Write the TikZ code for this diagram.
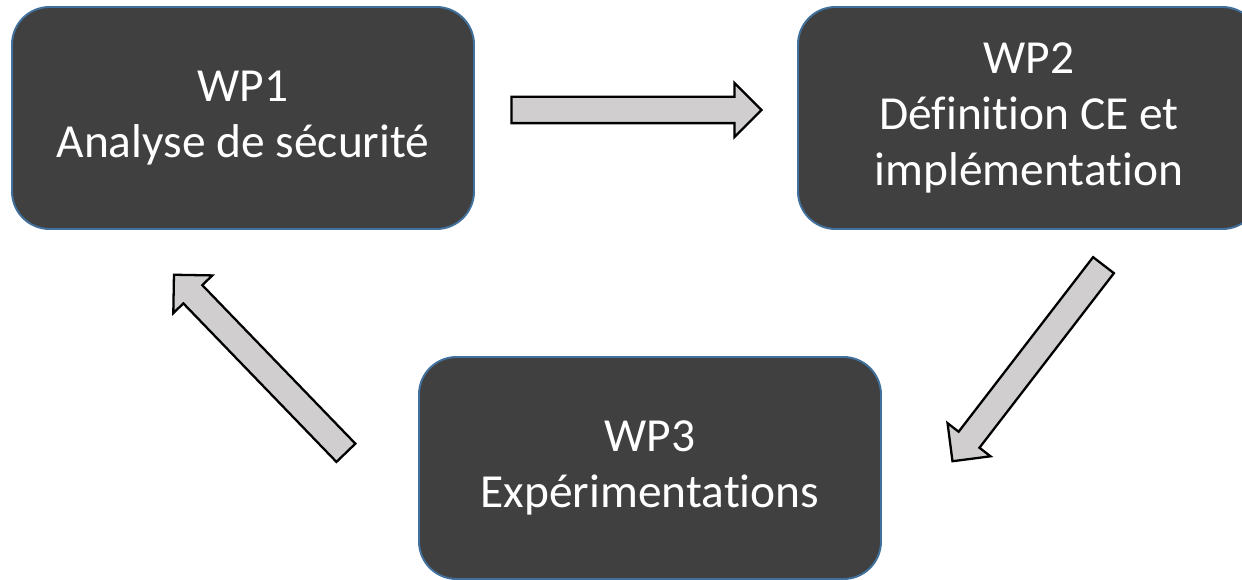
\documentclass[tikz,border=0pt]{standalone}
\usepackage{fontspec}
\setmainfont{Carlito}[Ligatures={NoCommon}]
\usepackage{xcolor}
\usepackage{tikz}
\usetikzlibrary{shapes.arrows, positioning, calc}
\definecolor{boxgray}{RGB}{64,64,64}
\definecolor{boxblue}{RGB}{65,113,156}
\definecolor{arrowgray}{RGB}{208,206,206}
\tikzstyle{wp} = [rectangle, rounded corners=0.75cm, minimum width=9.24cm, minimum height=4.44cm, align=center, draw=boxblue, line width=1.1pt, fill=boxgray, text=white, font=\fontsize{27}{32}\selectfont]
\tikzstyle{bigarrow} = [single arrow, draw=black, line width=1.3pt, fill=arrowgray, single arrow head extend=0.28cm, inner sep=0.24cm, outer sep=0pt]

\begin{document}
\begin{tikzpicture}[node distance=7cm]
\path[use as bounding box, clip] (0,0) rectangle (24.84,11.6);

% Work packages
\node (wp1) [wp] at (4.86,9.24) {WP1\\Analyse de sécurité};
\node (wp2) [wp, right of=wp1, xshift=8.72cm] {WP2\\Définition CE et\\implémentation};
\node (wp3) [wp, below of=wp1, xshift=8.14cm] {WP3\\Expérimentations};

% Block arrows between the work packages
\node (a12) [bigarrow, minimum height=5cm] at ($(wp1)!0.5!(wp2)+(-0.12,0.16)$) {};
\node (a23) [bigarrow, minimum height=4.95cm, rotate=-127.6] at (20.64,4.44) {};
\node (a31) [bigarrow, minimum height=4.95cm, rotate=134] at (5.29,4.23) {};

\end{tikzpicture}
\end{document}
